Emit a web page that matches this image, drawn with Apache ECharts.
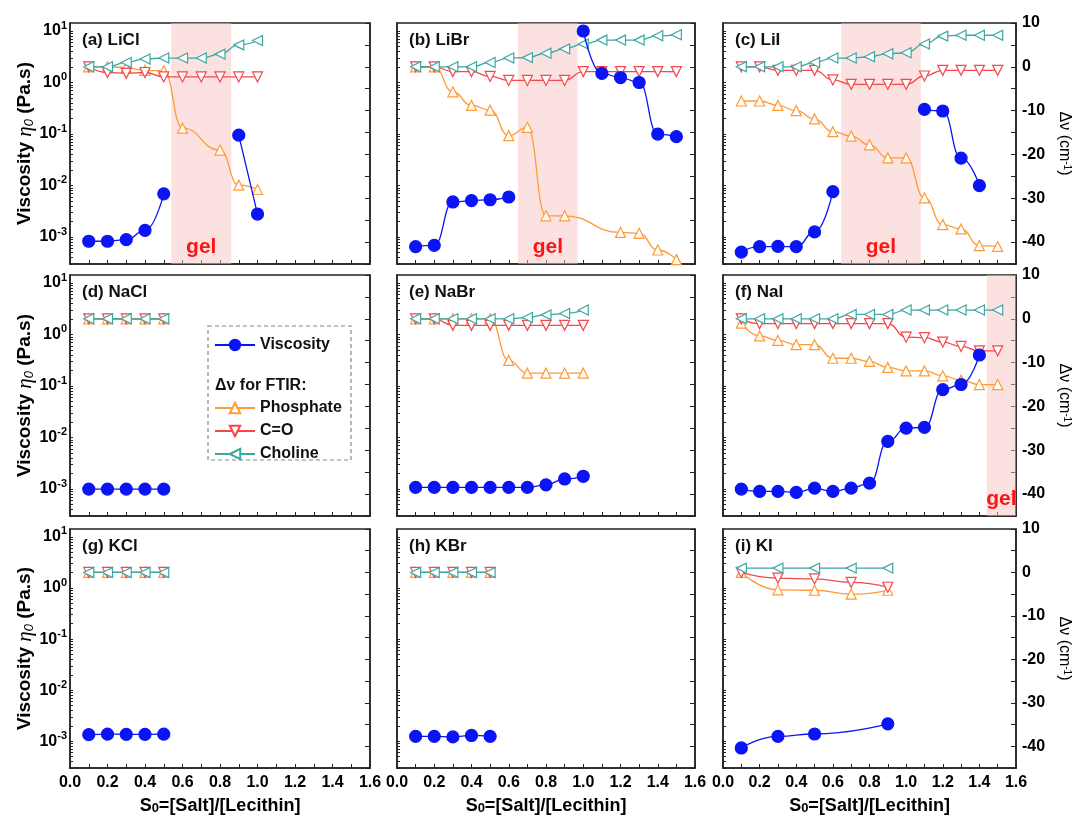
<!DOCTYPE html>
<html>
<head>
<meta charset="utf-8">
<script src="https://cdn.jsdelivr.net/npm/echarts@6/dist/echarts.min.js"></script>
<style>
html, body { margin: 0; padding: 0; background: #fff; }
#chart { width: 1074px; height: 816px; }
</style>
</head>
<body>
<div id="chart"></div>
<script>
// panel titles
var panelTitles = ['(a) LiCl', '(b) LiBr', '(c) LiI', '(d) NaCl', '(e) NaBr', '(f) NaI', '(g) KCl', '(h) KBr', '(i) KI'];

// zero-shear viscosity (Pa.s), null = gap (gel)
var liclVisc = [[0.1, 8.3e-4], [0.2, 8.3e-4], [0.3, 8.9e-4], [0.4, 1.35e-3], [0.5, 6.9e-3], [0.7, null], [0.9, 0.095], [1.0, 2.8e-3]];
var librVisc = [[0.1, 6.5e-4], [0.2, 6.9e-4], [0.3, 4.8e-3], [0.4, 5.1e-3], [0.5, 5.3e-3], [0.6, 6.0e-3], [0.8, null], [1.0, 10], [1.1, 1.5], [1.2, 1.25], [1.3, 1.0], [1.4, 0.1], [1.5, 0.089]];
var liiVisc = [[0.1, 5.1e-4], [0.2, 6.5e-4], [0.3, 6.6e-4], [0.4, 6.5e-4], [0.5, 1.26e-3], [0.6, 7.6e-3], [0.8, null], [1.1, 0.30], [1.2, 0.28], [1.3, 0.034], [1.4, 0.010]];
var naclVisc = [[0.1, 1e-3], [0.2, 1e-3], [0.3, 1e-3], [0.4, 1e-3], [0.5, 1e-3]];
var nabrVisc = [[0.1, 1.08e-3], [0.2, 1.08e-3], [0.3, 1.08e-3], [0.4, 1.08e-3], [0.5, 1.08e-3], [0.6, 1.08e-3], [0.7, 1.08e-3], [0.8, 1.21e-3], [0.9, 1.57e-3], [1.0, 1.77e-3]];
var naiVisc = [[0.1, 1.0e-3], [0.2, 0.9e-3], [0.3, 0.9e-3], [0.4, 0.86e-3], [0.5, 1.04e-3], [0.6, 0.9e-3], [0.7, 1.04e-3], [0.8, 1.3e-3], [0.9, 8.4e-3], [1.0, 0.0152], [1.1, 0.0158], [1.2, 0.085], [1.3, 0.107], [1.4, 0.40]];
var kclVisc = [[0.1, 1.35e-3], [0.2, 1.38e-3], [0.3, 1.37e-3], [0.4, 1.37e-3], [0.5, 1.38e-3]];
var kbrVisc = [[0.1, 1.25e-3], [0.2, 1.25e-3], [0.3, 1.22e-3], [0.4, 1.3e-3], [0.5, 1.25e-3]];
var kiVisc = [[0.1, 7.4e-4], [0.3, 1.25e-3], [0.5, 1.39e-3], [0.9, 2.2e-3]];

// FTIR shifts (cm-1): phosphate
var liclPhos = [[0.1, 0], [0.2, 0], [0.3, -0.2], [0.4, -0.8], [0.5, -0.9], [0.6, -14], [0.8, -19], [0.9, -27], [1.0, -28]];
var librPhos = [[0.1, 0], [0.2, 0], [0.3, -5.7], [0.4, -8.8], [0.5, -9.9], [0.6, -15.7], [0.7, -13.8], [0.8, -34], [0.9, -34], [1.2, -37.8], [1.3, -38], [1.4, -41.8], [1.5, -44]];
var liiPhos = [[0.1, -7.8], [0.2, -7.8], [0.3, -8.8], [0.4, -10.0], [0.5, -11.9], [0.6, -14.8], [0.7, -15.8], [0.8, -17.8], [0.9, -20.8], [1.0, -20.8], [1.1, -29.9], [1.2, -36.0], [1.3, -37.0], [1.4, -40.8], [1.5, -41.0]];
var naclPhos = [[0.1, 0], [0.2, 0], [0.3, 0], [0.4, 0], [0.5, 0]];
var nabrPhos = [[0.1, 0], [0.2, 0], [0.3, 0], [0.4, 0], [0.5, 0], [0.6, -9.5], [0.7, -12.4], [0.8, -12.4], [0.9, -12.4], [1.0, -12.4]];
var naiPhos = [[0.1, -1.0], [0.2, -3.9], [0.3, -4.9], [0.4, -5.9], [0.5, -5.9], [0.6, -9.0], [0.7, -9.0], [0.8, -9.7], [0.9, -11.1], [1.0, -11.9], [1.1, -11.9], [1.2, -13.0], [1.3, -14.0], [1.4, -15.0], [1.5, -15.0]];
var kclPhos = [[0.1, 0], [0.2, 0], [0.3, 0], [0.4, 0], [0.5, 0]];
var kbrPhos = [[0.1, 0], [0.2, 0], [0.3, 0], [0.4, 0], [0.5, 0]];
var kiPhos = [[0.1, 0], [0.3, -4.0], [0.5, -4.1], [0.7, -5.0], [0.9, -4.1]];

// C=O
var liclCO = [[0.1, 0], [0.2, -1.3], [0.3, -1.5], [0.4, -1.3], [0.5, -2.3], [0.6, -2.3], [0.7, -2.3], [0.8, -2.3], [0.9, -2.3], [1.0, -2.3]];
var librCO = [[0.1, 0], [0.2, 0], [0.3, -1.1], [0.4, -1.1], [0.5, -2.2], [0.6, -3.1], [0.7, -3.1], [0.8, -3.1], [0.9, -3.1], [1.0, -1.1], [1.1, -1.1], [1.2, -1.1], [1.3, -1.1], [1.4, -1.1], [1.5, -1.1]];
var liiCO = [[0.1, 0], [0.2, 0], [0.3, -0.8], [0.4, -0.8], [0.5, -0.8], [0.6, -3.0], [0.7, -4.0], [0.8, -4.0], [0.9, -4.0], [1.0, -4.0], [1.1, -2.1], [1.2, -0.8], [1.3, -0.8], [1.4, -0.8], [1.5, -0.8]];
var naclCO = [[0.1, 0], [0.2, 0], [0.3, 0], [0.4, 0], [0.5, 0]];
var nabrCO = [[0.1, 0], [0.2, 0], [0.3, -1.5], [0.4, -1.5], [0.5, -1.5], [0.6, -1.5], [0.7, -1.5], [0.8, -1.5], [0.9, -1.5], [1.0, -1.5]];
var naiCO = [[0.1, 0], [0.2, -1.1], [0.3, -1.1], [0.4, -1.1], [0.5, -1.1], [0.6, -1.1], [0.7, -1.1], [0.8, -1.1], [0.9, -1.1], [1.0, -4.2], [1.1, -4.3], [1.2, -5.3], [1.3, -6.3], [1.4, -7.3], [1.5, -7.3]];
var kclCO = [[0.1, 0], [0.2, 0], [0.3, 0], [0.4, 0], [0.5, 0]];
var kbrCO = [[0.1, 0], [0.2, 0], [0.3, 0], [0.4, 0], [0.5, 0]];
var kiCO = [[0.1, 0], [0.3, -1.3], [0.5, -1.5], [0.7, -2.3], [0.9, -3.4]];

// Choline
var liclChol = [[0.1, 0], [0.2, 0], [0.3, 1.0], [0.4, 1.8], [0.5, 2.0], [0.6, 2.0], [0.7, 2.0], [0.8, 2.9], [0.9, 5.0], [1.0, 6.0]];
var librChol = [[0.1, 0], [0.2, 0], [0.3, 0], [0.4, 0], [0.5, 1.0], [0.6, 2.0], [0.7, 2.1], [0.8, 3.1], [0.9, 4.1], [1.0, 5.2], [1.1, 6.1], [1.2, 6.1], [1.3, 6.1], [1.4, 7.1], [1.5, 7.3]];
var liiChol = [[0.1, 0], [0.2, 0], [0.3, 0], [0.4, 0], [0.5, 1.0], [0.6, 2.0], [0.7, 2.0], [0.8, 2.3], [0.9, 3.0], [1.0, 3.2], [1.1, 5.2], [1.2, 7.0], [1.3, 7.2], [1.4, 7.2], [1.5, 7.2]];
var naclChol = [[0.1, 0], [0.2, 0], [0.3, 0], [0.4, 0], [0.5, 0]];
var nabrChol = [[0.1, 0], [0.2, 0], [0.3, 0], [0.4, 0], [0.5, 0], [0.6, 0], [0.7, 0.3], [0.8, 0.9], [0.9, 1.2], [1.0, 2.0]];
var naiChol = [[0.1, 0], [0.2, 0], [0.3, 0], [0.4, 0], [0.5, 0], [0.6, 0], [0.7, 1.0], [0.8, 1.0], [0.9, 1.0], [1.0, 2.0], [1.1, 2.0], [1.2, 2.0], [1.3, 2.0], [1.4, 2.0], [1.5, 2.0]];
var kclChol = [[0.1, 0], [0.2, 0], [0.3, 0], [0.4, 0], [0.5, 0]];
var kbrChol = [[0.1, 0], [0.2, 0], [0.3, 0], [0.4, 0], [0.5, 0]];
var kiChol = [[0.1, 1], [0.3, 1], [0.5, 1], [0.7, 1], [0.9, 1]];

// gel regions (x range), null = none
var gelBands = [[0.54, 0.86], [0.65, 0.97], [0.645, 1.08], null, null, [1.44, 1.6], null, null, null];

// tick labels
var xTickLabels = [0, 0.2, 0.4, 0.6, 0.8, 1.0, 1.2, 1.4, 1.6];
var logLabelValues = [1e-3, 1e-2, 1e-1, 1, 10];
var dvLabelValues = [10, 0, -10, -20, -30, -40];

var viscAll = [liclVisc, librVisc, liiVisc, naclVisc, nabrVisc, naiVisc, kclVisc, kbrVisc, kiVisc];
var phosAll = [liclPhos, librPhos, liiPhos, naclPhos, nabrPhos, naiPhos, kclPhos, kbrPhos, kiPhos];
var coAll = [liclCO, librCO, liiCO, naclCO, nabrCO, naiCO, kclCO, kbrCO, kiCO];
var cholAll = [liclChol, librChol, liiChol, naclChol, nabrChol, naiChol, kclChol, kbrChol, kiChol];

var BLUE = '#0a14f5', ORANGE = '#ff9a35', RED = '#f5474c', TEAL = '#3ba8a2';
var FONT = 'Liberation Sans, Arial, sans-serif';
var AX = '#222';

var gridLeft = [70, 397, 723], gridWidth = [300, 298, 293];
var gridTop = [23, 275, 529], gridHeight = 241;
var yMin = 3.0e-4, yMax = 14.3;

// log minor ticks 1..9 x 10^n
var logTicks = [];
for (var n = -4; n <= 1; n++) {
    for (var k = 1; k <= 9; k++) {
        var v = k * Math.pow(10, n);
        if (v > yMin && v < yMax) logTicks.push(v);
    }
}

function fix(d) {
    return d.map(function (p) { return [p[0], p[1] === null ? '-' : p[1]]; });
}

var grids = [], xAxes = [], yAxes = [], series = [], titles = [];

function line(name, i, yi, data, color, symbol, rot, size, filled, z) {
    return {
        name: name, type: 'line', xAxisIndex: i, yAxisIndex: yi,
        data: fix(data), smooth: 0.5, smoothMonotone: 'x', connectNulls: false, z: z,
        symbol: symbol, symbolSize: size, symbolRotate: rot,
        lineStyle: { color: color, width: 1.3 },
        itemStyle: { color: filled ? color : '#fff', borderColor: color, borderWidth: 1.2 },
        emphasis: { disabled: true }
    };
}

for (var i = 0; i < 9; i++) {
    var r = Math.floor(i / 3), c = i % 3;
    grids.push({
        left: gridLeft[c], top: gridTop[r], width: gridWidth[c], height: gridHeight,
        show: true, borderColor: AX, borderWidth: 1.5, backgroundColor: 'transparent'
    });
    xAxes.push({
        gridIndex: i, type: 'value', min: 0, max: 1.6, interval: 0.2,
        axisLine: { show: true, onZero: false, lineStyle: { color: AX, width: 1.5 } },
        axisTick: { show: true, inside: true, length: 4, lineStyle: { color: AX } },
        minorTick: { show: true, splitNumber: 2, length: 4, lineStyle: { color: AX } },
        splitLine: { show: false },
        axisLabel: {
            show: r === 2, margin: 7, color: '#000', fontFamily: FONT, fontSize: 16, fontWeight: 'bold',
            customValues: xTickLabels,
            formatter: function (v) { return v.toFixed(1); }
        },
        name: r === 2 ? '{b|S}{s|0}{b|=[Salt]/[Lecithin]}' : '',
        nameLocation: 'middle', nameGap: 29,
        nameTextStyle: {
            rich: {
                b: { fontFamily: FONT, fontSize: 18, fontWeight: 'bold', color: '#000' },
                s: { fontFamily: FONT, fontSize: 13, fontWeight: 'bold', color: '#000', verticalAlign: 'bottom', lineHeight: 13 }
            }
        }
    });
    yAxes.push({
        gridIndex: i, type: 'log', min: yMin, max: yMax, position: 'left',
        axisLine: { show: true, onZero: false, lineStyle: { color: AX, width: 1.5 } },
        axisTick: { show: true, inside: true, length: 3, customValues: logTicks, lineStyle: { color: AX } },
        splitLine: { show: false },
        axisLabel: {
            show: c === 0, margin: 3, customValues: logLabelValues,
            formatter: function (v) { return '{b|10}{s|' + Math.round(Math.log10(v)) + '}'; },
            rich: {
                b: { fontFamily: FONT, fontSize: 16, fontWeight: 'bold', color: '#000', lineHeight: 22 },
                s: { fontFamily: FONT, fontSize: 11, fontWeight: 'bold', color: '#000', verticalAlign: 'top', lineHeight: 12 }
            }
        },
        name: c === 0 ? '{b|Viscosity }{e|η}{s|0}{b| (Pa.s)}' : '',
        nameLocation: 'middle', nameGap: 33, nameRotate: 90,
        nameTextStyle: {
            rich: {
                b: { fontFamily: FONT, fontSize: 19, fontWeight: 'bold', color: '#000' },
                e: { fontFamily: 'Liberation Serif, serif', fontSize: 21, fontStyle: 'italic', color: '#000' },
                s: { fontFamily: FONT, fontSize: 13, fontStyle: 'italic', color: '#000', verticalAlign: 'bottom', lineHeight: 13 }
            }
        }
    });
    yAxes.push({
        gridIndex: i, type: 'value', min: -45, max: 10, interval: 5, position: 'right',
        axisLine: { show: true, onZero: false, lineStyle: { color: AX, width: 1.5 } },
        axisTick: { show: true, inside: true, length: 5, lineStyle: { color: AX } },
        splitLine: { show: false },
        axisLabel: {
            show: c === 2, margin: 6, customValues: dvLabelValues,
            color: '#000', fontFamily: FONT, fontSize: 16, fontWeight: 'bold'
        },
        name: c === 2 ? 'Δν (cm{s|-1})' : '',
        nameLocation: 'middle', nameGap: 40, nameRotate: -90,
        nameTextStyle: {
            fontFamily: FONT, fontSize: 16, color: '#000',
            rich: { s: { fontFamily: FONT, fontSize: 10, color: '#000', verticalAlign: 'top', lineHeight: 10 } }
        }
    });

    var phos = line('Phosphate', i, 2 * i + 1, phosAll[i], ORANGE, 'triangle', 0, 10, false, 2);
    if (gelBands[i]) {
        phos.markArea = {
            silent: true,
            itemStyle: { color: 'rgba(250, 196, 196, 0.5)' },
            label: {
                show: true, position: 'insideBottom', distance: 6,
                color: '#ff1414', fontFamily: FONT, fontSize: 21, fontWeight: 'bold'
            },
            data: [[{ name: 'gel', xAxis: gelBands[i][0] }, { xAxis: gelBands[i][1] }]]
        };
    }
    series.push(phos);
    series.push(line('C=O', i, 2 * i + 1, coAll[i], RED, 'triangle', 180, 10, false, 3));
    series.push(line('Choline', i, 2 * i + 1, cholAll[i], TEAL, 'triangle', 90, 10, false, 4));
    series.push(line('Viscosity', i, 2 * i, viscAll[i], BLUE, 'circle', 0, 12, true, 5));

    titles.push({
        text: panelTitles[i], left: gridLeft[c] + 12, top: gridTop[r] + 9, padding: 0,
        textStyle: { fontFamily: FONT, fontSize: 17, fontWeight: 'bold', color: '#111' }
    });
}

var legendText = { fontFamily: FONT, fontSize: 16, fontWeight: 'bold', color: '#111' };

var option = {
    backgroundColor: '#fff',
    animation: false,
    title: titles,
    grid: grids,
    xAxis: xAxes,
    yAxis: yAxes,
    legend: [
        {
            data: ['Viscosity'], left: 214, top: 337, itemWidth: 40, itemHeight: 13,
            selectedMode: false, textStyle: legendText, padding: 0
        },
        {
            data: ['Phosphate', 'C=O', 'Choline'], orient: 'vertical', left: 214, top: 400,
            itemWidth: 40, itemHeight: 13, itemGap: 7, selectedMode: false,
            textStyle: legendText, padding: 0
        }
    ],
    graphic: [
        {
            type: 'rect', shape: { x: 208, y: 326, width: 143, height: 134 },
            style: { fill: 'transparent', stroke: '#888', lineWidth: 1.2, lineDash: [4, 3] }
        },
        {
            type: 'text', left: 215, top: 378,
            style: { text: 'Δν for FTIR:', fontFamily: FONT, fontSize: 16, fontWeight: 'bold', fill: '#111' }
        }
    ],
    series: series
};

var chart = echarts.init(document.getElementById('chart'));
chart.setOption(option);
</script>
</body>
</html>
